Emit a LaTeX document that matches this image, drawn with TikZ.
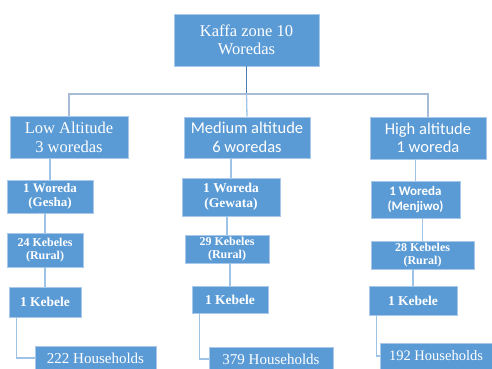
\documentclass[tikz,border=0pt]{standalone}
\usepackage{fontspec}
\setmainfont{Liberation Serif}
\newfontfamily\calibri{Carlito}
\definecolor{boxfill}{HTML}{5B9BD5}
\definecolor{boxedge}{HTML}{A9C8EA}
\definecolor{linklight}{HTML}{9DC3E6}
\definecolor{linkdark}{HTML}{4A7EB4}
\definecolor{linkbus}{HTML}{A7BDD7}
\tikzset{
  orgbox/.style={fill=boxfill, draw=boxedge, line width=0.7pt, text=white, inner sep=0pt, align=center},
  link/.style={draw=linklight, line width=1.3pt},
}
\begin{document}
\begin{tikzpicture}[x=1pt,y=-1pt]
\useasboundingbox (0,0) rectangle (492,369);
\begin{scope}
\clip (0,0) rectangle (492,369);
% level 1
\node[orgbox, minimum width=145pt, minimum height=52pt, font=\fontsize{16.5}{18.5}\selectfont] (top) at (246.5,40) {Kaffa zone 10\\Woredas};
% level 2
\node[orgbox, minimum width=118pt, minimum height=42pt, font=\fontsize{16.5}{19}\selectfont] (low) at (69,137) {Low Altitude\\3 woredas};
\node[orgbox, minimum width=126pt, minimum height=41pt, font=\calibri\fontsize{16.5}{18.5}\selectfont] (med) at (247,137.5) {Medium altitude\\6 woredas};
\node[orgbox, minimum width=116pt, minimum height=42pt, font=\calibri\fontsize{16.5}{18.5}\selectfont] (high) at (428,138) {High altitude\\1 woreda};
% level 3
\node[orgbox, minimum width=86pt, minimum height=33pt, font=\bfseries\fontsize{13}{14}\selectfont] (lw) at (50,196.5) {1 Woreda\\(Gesha)};
\node[orgbox, minimum width=98pt, minimum height=38pt, font=\bfseries\fontsize{13.5}{15}\selectfont] (mw) at (231,197) {1 Woreda\\(Gewata)};
\node[orgbox, minimum width=89pt, minimum height=37pt, font=\calibri\bfseries\fontsize{13}{15}\selectfont] (hw) at (415.5,199.5) {1 Woreda\\(Menjiwo)};
% level 4
\node[orgbox, minimum width=76pt, minimum height=34pt, font=\bfseries\fontsize{12}{13}\selectfont] (lk) at (45,250) {24 Kebeles\\(Rural)};
\node[orgbox, minimum width=84pt, minimum height=28pt, font=\bfseries\fontsize{12}{12.5}\selectfont] (mk) at (227,249) {29 Kebeles\\(Rural)};
\node[orgbox, minimum width=103pt, minimum height=28pt, font=\bfseries\fontsize{12}{12.5}\selectfont] (hk) at (422.5,255) {28 Kebeles\\(Rural)};
% level 5
\node[orgbox, minimum width=72pt, minimum height=30pt, font=\bfseries\fontsize{13.5}{15}\selectfont] (l1) at (45,302) {1 Kebele};
\node[orgbox, minimum width=76pt, minimum height=27pt, font=\bfseries\fontsize{13.5}{15}\selectfont] (m1) at (230,299.5) {1 Kebele};
\node[orgbox, minimum width=88pt, minimum height=29pt, font=\bfseries\fontsize{13.5}{15}\selectfont] (h1) at (413,300.5) {1 Kebele};
% level 6
\node[orgbox, minimum width=121pt, minimum height=24pt, font=\fontsize{15}{17}\selectfont] (lh) at (95.5,358) {222 Households};
\node[orgbox, minimum width=124pt, minimum height=24pt, font=\fontsize{15}{17}\selectfont] (mh) at (271,359) {379 Households};
\node[orgbox, minimum width=112pt, minimum height=26pt, font=\fontsize{14.5}{17}\selectfont] (hh) at (436,356) {192 Households};
% connectors
\coordinate (bus) at (246.5,94);
\draw[draw=linkdark, line width=1.5pt] (top.south) -- (bus);
\draw[draw=linkbus, line width=1.3pt] (low.north) -- (low.north |- bus) -- (high.north |- bus) -- (high.north);
\draw[link] (bus) -- (med.north);
\draw[link] (lw.north) -- (lw.north |- low.south);
\draw[link] (mw.north) -- (mw.north |- med.south);
\draw[link] (hw.north) -- (hw.north |- high.south);
\draw[link] (lk.north) -- (lk.north |- lw.south);
\draw[link] (mk.north) -- (mk.north |- mw.south);
\draw[link] (hk.north) -- (hk.north |- hw.south);
\draw[link] (l1.north) -- (l1.north |- lk.south);
\draw[link] (m1.north) -- (m1.north |- mk.south);
\draw[link] (h1.north) -- (h1.north |- hk.south);
\coordinate (le) at ([xshift=8pt]l1.south west);
\coordinate (me) at ([xshift=8pt]m1.south west);
\coordinate (he) at ([xshift=8pt]h1.south west);
\draw[link] (le) |- (lh.west);
\draw[link] (me) |- (mh.west);
\draw[link] (he) |- (hh.west);
\end{scope}
\end{tikzpicture}
\end{document}
